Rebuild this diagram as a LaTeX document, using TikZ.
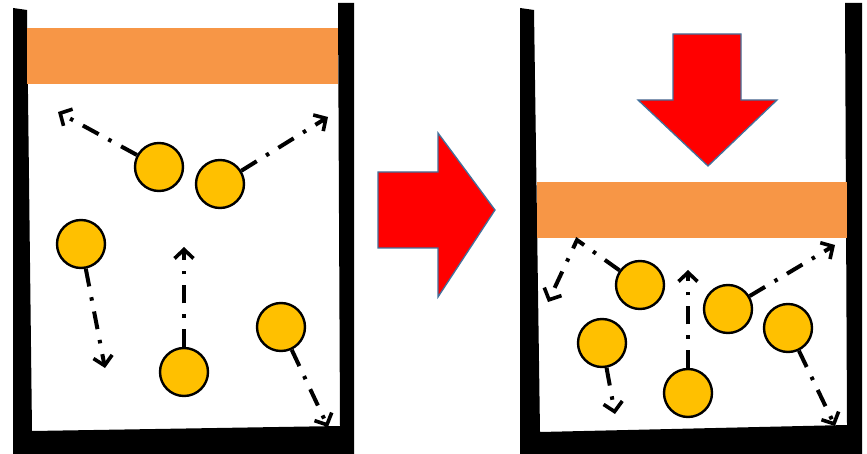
\documentclass[tikz,border=0pt]{standalone}
\usetikzlibrary{arrows.meta}
\definecolor{piston}{HTML}{F79646}
\definecolor{gas}{HTML}{FFC000}
\definecolor{push}{HTML}{FF0000}
\definecolor{pushedge}{HTML}{41719C}
\tikzset{
  wall/.style={fill=black, draw=none},
  lid/.style={fill=piston, draw=none},
  particle/.style={circle, fill=gas, draw=black, line width=2.4pt, minimum size=48pt, inner sep=0pt},
  motion/.style={draw=black, line width=4pt, dash pattern=on 18pt off 11pt on 3.5pt off 11pt,
    -{Straight Barb[length=9pt, width=19pt, line width=3.6pt]}},
  bigarrow/.style={fill=push, draw=pushedge, line width=1.3pt, line join=miter}
}
\begin{document}
\begin{tikzpicture}[x=1pt, y=-1pt]
\useasboundingbox (0,0) rectangle (867,454);
\fill[white] (0,0) rectangle (867,454);

% ---- first cylinder ----
\fill[wall] (13,8) -- (27,10) -- (32,431) -- (340,426) -- (338,3) -- (354,3)
  -- (354,454) -- (13,454) -- cycle;
\fill[lid] (27,28) rectangle (338,84);

\node[particle] (p1) at (159,167) {};
\node[particle] (p2) at (220,184) {};
\node[particle] (p3) at (81,244) {};
\node[particle] (p4) at (184,372) {};
\node[particle] (p5) at (281,327) {};

\coordinate (t1) at (58,112);
\coordinate (t2) at (328,117);
\coordinate (t3) at (105,368);
\coordinate (t4) at (184,247);
\coordinate (t5) at (328,427);

\draw[motion] (p1) -- (t1);
\draw[motion] (p2) -- (t2);
\draw[motion] (p3) -- (t3);
\draw[motion] (p4) -- (t4);
\draw[motion] (p5) -- (t5);

% ---- arrow between the two states ----
\draw[bigarrow] (378,172) -- (438,172) -- (438,133) -- (495,210) -- (438,297)
  -- (438,248) -- (378,248) -- cycle;

% ---- second cylinder, compressed ----
\fill[wall] (520,8) -- (534,10) -- (540,432) -- (847,425) -- (845,3) -- (862,3)
  -- (862,454) -- (520,454) -- cycle;
\fill[lid] (537,182) rectangle (847,238);

\draw[bigarrow] (673,34) -- (741,34) -- (741,100) -- (777,100) -- (708,166)
  -- (638,100) -- (673,100) -- cycle;

\node[particle] (q1) at (640,285) {};
\node[particle] (q2) at (602,343) {};
\node[particle] (q3) at (688,393) {};
\node[particle] (q4) at (728,309) {};
\node[particle] (q5) at (788,328) {};

\coordinate (bounce) at (577,240);
\coordinate (u1) at (548,302);
\coordinate (u2) at (615,414);
\coordinate (u3) at (688,270);
\coordinate (u4) at (835,245);
\coordinate (u5) at (835,426);

\draw[motion] (q1) -- (bounce) -- (u1);
\draw[motion] (q2) -- (u2);
\draw[motion] (q3) -- (u3);
\draw[motion] (q4) -- (u4);
\draw[motion] (q5) -- (u5);
\end{tikzpicture}
\end{document}
